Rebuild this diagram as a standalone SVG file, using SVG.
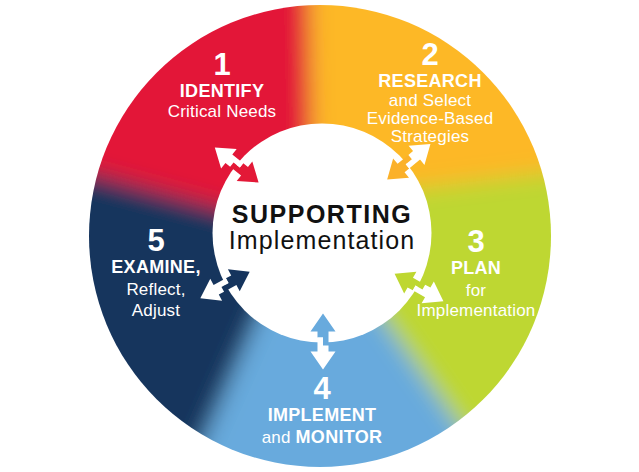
<svg xmlns="http://www.w3.org/2000/svg" xmlns:xlink="http://www.w3.org/1999/xlink" width="639" height="472" viewBox="0 0 639 472">
<defs>
<style>
text{font-family:"Liberation Sans",Arial,Helvetica,sans-serif;text-anchor:middle;fill:#fff}
.num{font-size:31px;font-weight:bold}
.hd{font-size:18px;font-weight:bold;letter-spacing:0.3px}
.sub{font-size:17px;letter-spacing:0.2px}
.c1{font-size:25px;font-weight:bold;letter-spacing:1.5px;fill:#111}
.c2{font-size:25px;letter-spacing:1.1px;fill:#111}
</style>
<filter id="soft" filterUnits="userSpaceOnUse" x="-150" y="-250" width="950" height="900">
<feGaussianBlur stdDeviation="11"/>
</filter>
<clipPath id="ringClip"><circle cx="320" cy="236" r="231"/></clipPath>
<path id="arrIn" d="M-28,0 L-10,-12.5 L-10,-5.5 L4,-5.5 L4,0 L-4,0 L-4,5.5 L-10,5.5 L-10,12.5 Z"/>
<path id="arrOut" d="M28,0 L10,12.5 L10,5.5 L-4,5.5 L-4,0 L4,0 L4,-5.5 L10,-5.5 L10,-12.5 Z" fill="#fff"/>
</defs>
<rect width="639" height="472" fill="#fff"/>
<g id="ring" clip-path="url(#ringClip)">
<g filter="url(#soft)">
<polygon fill="#E31937" points="320,236 240,213 -62,132 -62,-170 306,-170 312,150"/>
<polygon fill="#FDB827" points="320,236 312,150 306,-170 720,-170 720,152 400,190"/>
<polygon fill="#BED730" points="320,236 400,190 720,152 720,522 527,522 380,314"/>
<polygon fill="#68AADD" points="320,236 380,314 527,522 162,533 262,308"/>
<polygon fill="#15345D" points="320,236 262,308 162,533 -62,533 -62,132 240,213"/>
</g>
</g>
<circle id="hub" cx="322" cy="233" r="109.5" fill="#fff"/>
<g id="connectors">
<g transform="translate(236.7,165) rotate(-141.4)"><use xlink:href="#arrIn" fill="#E31937"/><use xlink:href="#arrOut"/></g>
<g transform="translate(408.8,161.7) rotate(-39.4)"><use xlink:href="#arrIn" fill="#FBB12A"/><use xlink:href="#arrOut"/></g>
<g transform="translate(419,287.5) rotate(29.3)"><use xlink:href="#arrIn" fill="#BED730"/><use xlink:href="#arrOut"/></g>
<g transform="translate(323,341.5) rotate(90)"><use xlink:href="#arrIn" fill="#68AADD"/><use xlink:href="#arrOut"/></g>
<g transform="translate(225,285) rotate(151.8)"><use xlink:href="#arrIn" fill="#15345D"/><use xlink:href="#arrOut"/></g>
</g>
<g id="node-center">
<text class="c1" x="322" y="223">SUPPORTING</text>
<text class="c2" x="322" y="249">Implementation</text>
</g>
<g id="node-1">
<text class="num" x="222" y="75">1</text>
<text class="hd" x="222" y="97">IDENTIFY</text>
<text class="sub" x="222" y="117">Critical Needs</text>
</g>
<g id="node-2">
<text class="num" x="430" y="65">2</text>
<text class="hd" x="430" y="87">RESEARCH</text>
<text class="sub" x="430" y="105.5">and Select</text>
<text class="sub" x="430" y="123.5">Evidence-Based</text>
<text class="sub" x="430" y="141.5">Strategies</text>
</g>
<g id="node-3">
<text class="num" x="476" y="252">3</text>
<text class="hd" x="476" y="274">PLAN</text>
<text class="sub" x="476" y="296">for</text>
<text class="sub" x="476" y="316">Implementation</text>
</g>
<g id="node-4">
<text class="num" x="322" y="399">4</text>
<text class="hd" x="322" y="421">IMPLEMENT</text>
<text class="sub" x="322" y="443"><tspan>and </tspan><tspan font-weight="bold" style="letter-spacing:0.3px;font-size:18px">MONITOR</tspan></text>
</g>
<g id="node-5">
<text class="num" x="156" y="251">5</text>
<text class="hd" x="156" y="273">EXAMINE,</text>
<text class="sub" x="156" y="295">Reflect,</text>
<text class="sub" x="156" y="315.5">Adjust</text>
</g>
</svg>
